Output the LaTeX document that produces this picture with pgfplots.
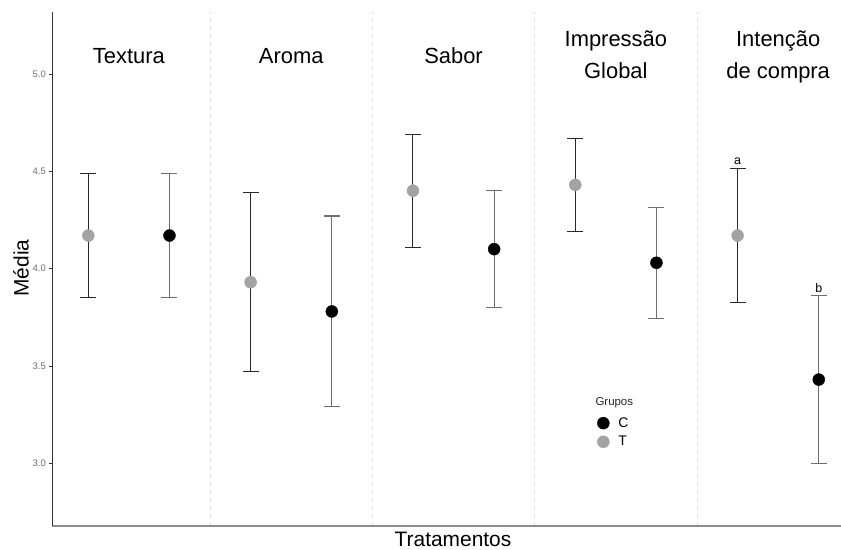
\documentclass[border=0pt]{standalone}
\usepackage{fontspec}
\setmainfont{Liberation Sans}
\usepackage{pgfplots}
\pgfplotsset{compat=1.18}
\usepackage{pgfplotstable}
\definecolor{ptgray}{RGB}{163,163,163}
\definecolor{barT}{RGB}{40,40,40}
\definecolor{barC}{RGB}{110,110,110}
\definecolor{gridc}{RGB}{222,222,222}
\definecolor{tickc}{RGB}{110,110,110}
\definecolor{xaxc}{RGB}{140,140,140}

\pgfplotstableread{
x y e
0.75 4.17 0.32
1.75 3.93 0.46
2.75 4.40 0.29
3.75 4.43 0.24
4.75 4.17 0.345
}\tabT
\pgfplotstableread{
x y e
1.25 4.17 0.32
2.25 3.78 0.49
3.25 4.10 0.30
4.25 4.03 0.285
5.25 3.43 0.43
}\tabC

\begin{document}
\begin{tikzpicture}
\path[use as bounding box] (0,0) rectangle (841bp,550bp);
\begin{axis}[
  at={(52.3bp,24bp)}, anchor=south west,
  scale only axis, width=788.7bp, height=514bp,
  xmin=0.528, xmax=5.387, ymin=2.678, ymax=5.318,
  axis x line*=bottom, axis y line*=left,
  x axis line style={-, draw=xaxc, line width=1.2bp},
  y axis line style={-, draw=black!80, line width=0.8bp},
  xtick={1.5,2.5,3.5,4.5}, xticklabels={},
  xmajorgrids,
  every x tick/.style={draw=none},
  grid style={gridc, dash pattern=on 4bp off 4bp, line width=0.7bp},
  ytick={3,3.5,4,4.5,5},
  yticklabel style={font=\fontsize{9.5}{11}\selectfont, text=tickc,
    /pgf/number format/fixed, /pgf/number format/fixed zerofill,
    /pgf/number format/precision=1},
  /pgf/number format/assume math mode=true,
  every y tick/.style={black!80, line width=0.6bp},
  tick align=outside, major tick length=3bp,
  clip=false,
  legend style={at={(axis description cs:0.712,0.182)}, anchor=center,
    draw=none, fill=none, font=\fontsize{14}{16}\selectfont, row sep=3.5bp,
    /tikz/every odd column/.append style={column sep=7bp}},
  legend cell align=left,
]
\addplot[forget plot, only marks, mark=*, mark size=6bp, color=ptgray,
  error bars/.cd, y dir=both, y explicit,
  error bar style={barT, line width=1bp},
  error mark options={barT, line width=1bp, mark size=8bp, rotate=90}]
  table[x=x, y=y, y error=e]{\tabT};
\addplot[forget plot, only marks, mark=*, mark size=6bp, color=black,
  error bars/.cd, y dir=both, y explicit,
  error bar style={barC, line width=1.1bp},
  error mark options={barC, line width=1.1bp, mark size=8bp, rotate=90}]
  table[x=x, y=y, y error=e]{\tabC};
\addlegendimage{only marks, mark=*, mark size=6bp, black}
\addlegendentry{C}
\addlegendimage{only marks, mark=*, mark size=6bp, ptgray}
\addlegendentry{T}

\node[font=\fontsize{12.5}{14}\selectfont, anchor=base] at (axis cs:4.75,4.535) {a};
\node[font=\fontsize{12.5}{14}\selectfont, anchor=base] at (axis cs:5.25,3.877) {b};

\node[font=\fontsize{22}{26}\selectfont, anchor=base] at (axis cs:1,5.055) {Textura};
\node[font=\fontsize{22}{26}\selectfont, anchor=base] at (axis cs:2,5.055) {Aroma};
\node[font=\fontsize{22}{26}\selectfont, anchor=base] at (axis cs:3,5.055) {Sabor};
\node[font=\fontsize{22}{26}\selectfont, anchor=base] at (axis cs:4,5.140) {Impressão};
\node[font=\fontsize{22}{26}\selectfont, anchor=base] at (axis cs:4,4.974) {Global};
\node[font=\fontsize{22}{26}\selectfont, anchor=base] at (axis cs:5,5.140) {Intenção};
\node[font=\fontsize{22}{26}\selectfont, anchor=base] at (axis cs:5,4.974) {de compra};
\end{axis}
\node[font=\fontsize{11.5}{13}\selectfont, text=black!85] at (614.3bp,147.3bp) {Grupos};
\node[font=\fontsize{21}{25}\selectfont, anchor=base] at (453bp,3.3bp) {Tratamentos};
\node[font=\fontsize{21}{25}\selectfont, rotate=90] at (21bp,282bp) {Média};
\end{tikzpicture}
\end{document}
